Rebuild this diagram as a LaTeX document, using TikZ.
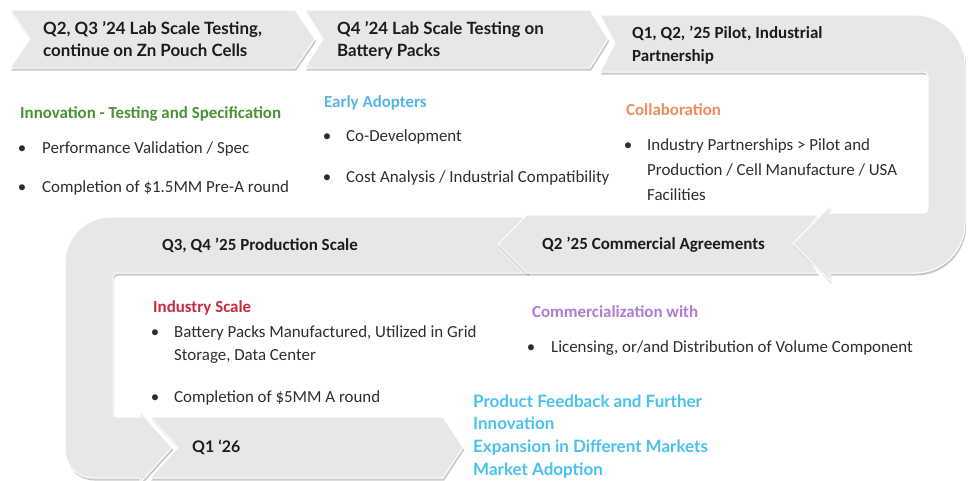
\documentclass[tikz,border=0pt]{standalone}
\usepackage{fontspec}
\setmainfont{Carlito}
\newfontfamily\headfont{Lato}
\usetikzlibrary{shadows}

\definecolor{bandgray}{RGB}{231,231,231}
\definecolor{inkdark}{RGB}{28,28,28}
\definecolor{inkbody}{RGB}{45,45,45}
\definecolor{innogreen}{RGB}{72,148,52}
\definecolor{adoptblue}{RGB}{86,182,232}
\definecolor{collaborange}{RGB}{240,140,90}
\definecolor{industryred}{RGB}{200,42,62}
\definecolor{commpurple}{RGB}{176,122,216}
\definecolor{outlookblue}{RGB}{72,192,240}

\tikzset{
  band/.style={fill=bandgray, draw=white, line width=1pt,
    drop shadow={shadow xshift=1.2pt, shadow yshift=-2.5pt, opacity=0.3, fill=black!70}},
  stagehead/.style={anchor=base west, inner sep=0pt, text=inkdark,
    font=\headfont\bfseries\fontsize{16.9}{20}\selectfont},
  stagecal/.style={anchor=base west, inner sep=0pt, text=inkdark,
    font=\bfseries\fontsize{17}{20}\selectfont},
  topic/.style={anchor=base west, inner sep=0pt,
    font=\bfseries\fontsize{16.9}{20}\selectfont},
  bodytext/.style={anchor=base west, inner sep=0pt, text=inkbody,
    font=\fontsize{16.9}{20}\selectfont},
  bulletmark/.style={anchor=base, inner sep=0pt, text=inkbody,
    font=\fontsize{16.9}{20}\selectfont},
  outlook/.style={anchor=base west, inner sep=0pt, text=outlookblue,
    font=\headfont\bfseries\fontsize{17}{20}\selectfont},
}

\begin{document}
\begin{tikzpicture}[x=1pt,y=-1pt]
\useasboundingbox (0,0) rectangle (969,480);

% ---- lower-left U-turn band, ending in an arrow pointing right
\path[band] (528,217) [rounded corners=46pt] -- (65,217) [rounded corners=28pt] -- (65,478)
  [sharp corners] -- (140,478) -- (140,483) -- (172,447.5) -- (140,412) -- (140,417)
  [rounded corners=4pt] -- (113,417) -- (113,273) [sharp corners] -- (528,273) -- cycle;

% ---- left-pointing stage chevron
\path[band] (527,215) -- (818,215) -- (798,244) -- (818,273) -- (527,273) -- (498,244) -- cycle;

% ---- top-right U-turn band, ending in an arrow pointing left
\path[band] (600,15) [rounded corners=50pt] -- (965,15) -- (965,273)
  [sharp corners] -- (830,273) -- (830,281) -- (793,243.5) -- (830,206) -- (830,213)
  [rounded corners=4pt] -- (928,213) -- (928,72) [sharp corners] -- (600,72) -- (615,43.5) -- cycle;

% ---- top row chevrons
\path[band] (10,10) -- (295,10) -- (315,39) -- (295,68) -- (10,68) -- (30,39) -- cycle;
\path[band] (305,10) -- (590,10) -- (608,39) -- (590,68) -- (305,68) -- (323,39) -- cycle;

% ---- bottom chevron
\path[band] (150,417) -- (443,417) -- (463,447.5) -- (443,478) -- (150,478) -- (178,447.5) -- cycle;

% ---- stage titles
\node[stagehead] (s1a) at (43,34) {Q2, Q3 ’24 Lab Scale Testing,};
\node[stagehead] (s1b) at (43,56) {continue on Zn Pouch Cells};
\node[stagehead] (s2a) at (337,34) {Q4 ’24 Lab Scale Testing on};
\node[stagehead] (s2b) at (337,56) {Battery Packs};
\node[stagecal] (s3a) at (632,38) {Q1, Q2, ’25 Pilot, Industrial};
\node[stagecal] (s3b) at (632,61) {Partnership};
\node[stagecal] (s4) at (542,249) {Q2 ’25 Commercial Agreements};
\node[stagecal] (s5) at (162,250) {Q3, Q4 ’25 Production Scale};
\node[stagehead, font=\headfont\bfseries\fontsize{16}{19}\selectfont] (s6) at (192,452) {Q1 ‘26};

% ---- innovation block
\node[topic, text=innogreen] (innov) at (20,118.5) {Innovation - Testing and Specification};
\node[bulletmark] (ib1) at (22,153.5) {•};
\node[bodytext] (it1) at (42,153.5) {Performance Validation / Spec};
\node[bulletmark] (ib2) at (22,192.5) {•};
\node[bodytext] (it2) at (42,192.5) {Completion of \$1.5MM Pre-A round};

% ---- early adopters block
\node[topic, text=adoptblue] (early) at (324,107.5) {Early Adopters};
\node[bulletmark] (eb1) at (327,141.5) {•};
\node[bodytext] (et1) at (346,141.5) {Co-Development};
\node[bulletmark] (eb2) at (327,182.5) {•};
\node[bodytext] (et2) at (346,182.5) {Cost Analysis / Industrial Compatibility};

% ---- collaboration block
\node[topic, text=collaborange] (collab) at (626,115.5) {Collaboration};
\node[bulletmark] (cb1) at (628,150.5) {•};
\node[bodytext] (ct1) at (647,150.5) {Industry Partnerships > Pilot and};
\node[bodytext] (ct2) at (647,175.5) {Production / Cell Manufacture / USA};
\node[bodytext] (ct3) at (647,200.5) {Facilities};

% ---- industry scale block
\node[topic, text=industryred] (indus) at (153,312.5) {Industry Scale};
\node[bulletmark] (nb1) at (155,337.5) {•};
\node[bodytext] (nt1) at (174,337.5) {Battery Packs Manufactured, Utilized in Grid};
\node[bodytext] (nt2) at (174,360.5) {Storage, Data Center};
\node[bulletmark] (nb2) at (155,402.5) {•};
\node[bodytext] (nt3) at (174,402.5) {Completion of \$5MM A round};

% ---- commercialization block
\node[topic, text=commpurple] (comm) at (532,317.5) {Commercialization with};
\node[bulletmark] (mb1) at (531,352.5) {•};
\node[bodytext] (mt1) at (551,352.5) {Licensing, or/and Distribution of Volume Component};

% ---- outlook
\node[outlook] (o1) at (473,407.5) {Product Feedback and Further};
\node[outlook] (o2) at (473,429.5) {Innovation};
\node[outlook] (o3) at (473,452.5) {Expansion in Different Markets};
\node[outlook] (o4) at (473,475.5) {Market Adoption};
\end{tikzpicture}
\end{document}
